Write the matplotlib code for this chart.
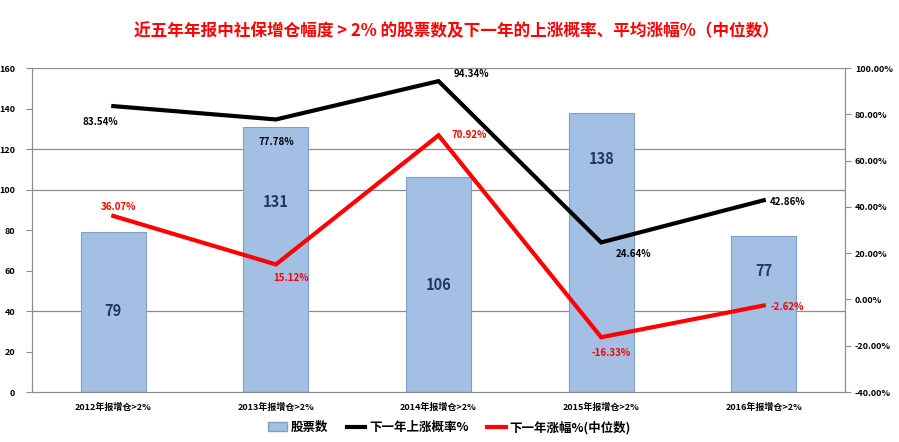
import matplotlib
matplotlib.use("Agg")
import matplotlib.pyplot as plt
from matplotlib.lines import Line2D
from matplotlib.patches import Patch
from matplotlib.ticker import FuncFormatter

plt.rcParams['font.family'] = ['Noto Sans CJK SC', 'DejaVu Sans']

categories = ["2012年报增仓>2%", "2013年报增仓>2%", "2014年报增仓>2%", "2015年报增仓>2%", "2016年报增仓>2%"]
stock_counts = [79, 131, 106, 138, 77]
up_prob = [83.54, 77.78, 94.34, 24.64, 42.86]
median_gain = [36.07, 15.12, 70.92, -16.33, -2.62]
left_ticks = [0, 20, 40, 60, 80, 100, 120, 140, 160]
right_ticks = [-40, -20, 0, 20, 40, 60, 80, 100]
visible_grid = [120, 100, 40, 160]

# layout: heights (left-axis units) where the bar count labels sit
count_label_y = [40, 94, 53, 115, 60]
# label offsets (points) for point labels
up_offsets = [(-9, -11.5), (0, -16), (24, 5), (23, -8), (17, -1)]
gain_offsets = [(4, 6.5), (11, -10), (22, 0), (7, -11), (17, -1)]

fig = plt.figure(figsize=(8.99, 4.42), dpi=100)
ax = fig.add_axes([0.0356, 0.1131, 0.9044, 0.733])
ax2 = ax.twinx()

x = list(range(len(categories)))
bar_color = "#A3BFE4"
ax.bar(x, stock_counts, width=0.4, color=bar_color, edgecolor="#7F9FCB", linewidth=0.8, zorder=2)
for xi, v, ly in zip(x, stock_counts, count_label_y):
    ax.text(xi, ly, str(v), ha="center", va="center", fontsize=10.5, fontweight="bold",
            color="#1F3864", zorder=3)

for g in visible_grid:
    ax.axhline(g, color="#8C8C8C", linewidth=0.9, zorder=1)

ax.set_xlim(-0.5, 4.5)
ax.set_ylim(0, 160)
ax.set_yticks(left_ticks)
ax2.set_ylim(-40, 100)
ax2.set_yticks(right_ticks)
ax2.yaxis.set_major_formatter(FuncFormatter(lambda v, p: f"{v:.2f}%"))

ax2.plot(x, up_prob, color="black", linewidth=3, solid_joinstyle="miter", zorder=4)
ax2.plot(x, median_gain, color="#FF0000", linewidth=3, solid_joinstyle="miter", zorder=4)
for xi, v, off in zip(x, up_prob, up_offsets):
    ax2.annotate(f"{v:.2f}%", (xi, v), xytext=off, textcoords="offset points", ha="center",
                 va="center", fontsize=7, fontweight="bold", color="black", zorder=5)
for xi, v, off in zip(x, median_gain, gain_offsets):
    ax2.annotate(f"{v:.2f}%", (xi, v), xytext=off, textcoords="offset points", ha="center",
                 va="center", fontsize=7, fontweight="bold", color="#FF0000", zorder=5)

ax2.set_zorder(ax.get_zorder() + 1)
ax2.patch.set_visible(False)

ax.set_xticks(x)
ax.set_xticklabels(categories, fontsize=6.5, fontweight="bold")
for a in (ax, ax2):
    a.spines["top"].set_visible(False)
    a.spines["left"].set_color("#8C8C8C")
    a.spines["right"].set_color("#8C8C8C")
    a.spines["bottom"].set_color("#8C8C8C")
ax.tick_params(axis="x", length=0, pad=8)
ax.tick_params(axis="y", labelsize=6.5, length=4, color="#8C8C8C", direction="out", pad=8)
ax2.tick_params(axis="y", labelsize=6.5, length=4, color="#8C8C8C", direction="out", pad=3)
for lab in ax.get_yticklabels() + ax2.get_yticklabels():
    lab.set_fontweight("bold")

fig.text(0.508, 0.93, "近五年年报中社保增仓幅度 > 2% 的股票数及下一年的上涨概率、平均涨幅%（中位数）",
         ha="center", va="center", fontsize=12, fontweight="bold", color="#FF0000")

handles = [Patch(facecolor=bar_color, edgecolor="#7F9FCB"),
           Line2D([0], [0], color="black", linewidth=3),
           Line2D([0], [0], color="#FF0000", linewidth=3)]
labels = ["股票数", "下一年上涨概率%", "下一年涨幅%(中位数)"]
fig.legend(handles, labels, loc="center", bbox_to_anchor=(0.5, 0.033), ncol=3, frameon=False,
           handlelength=1.5, handletextpad=0.3, columnspacing=1.5,
           prop={"weight": "bold", "size": 9})

fig.savefig("out.png", dpi=100)
